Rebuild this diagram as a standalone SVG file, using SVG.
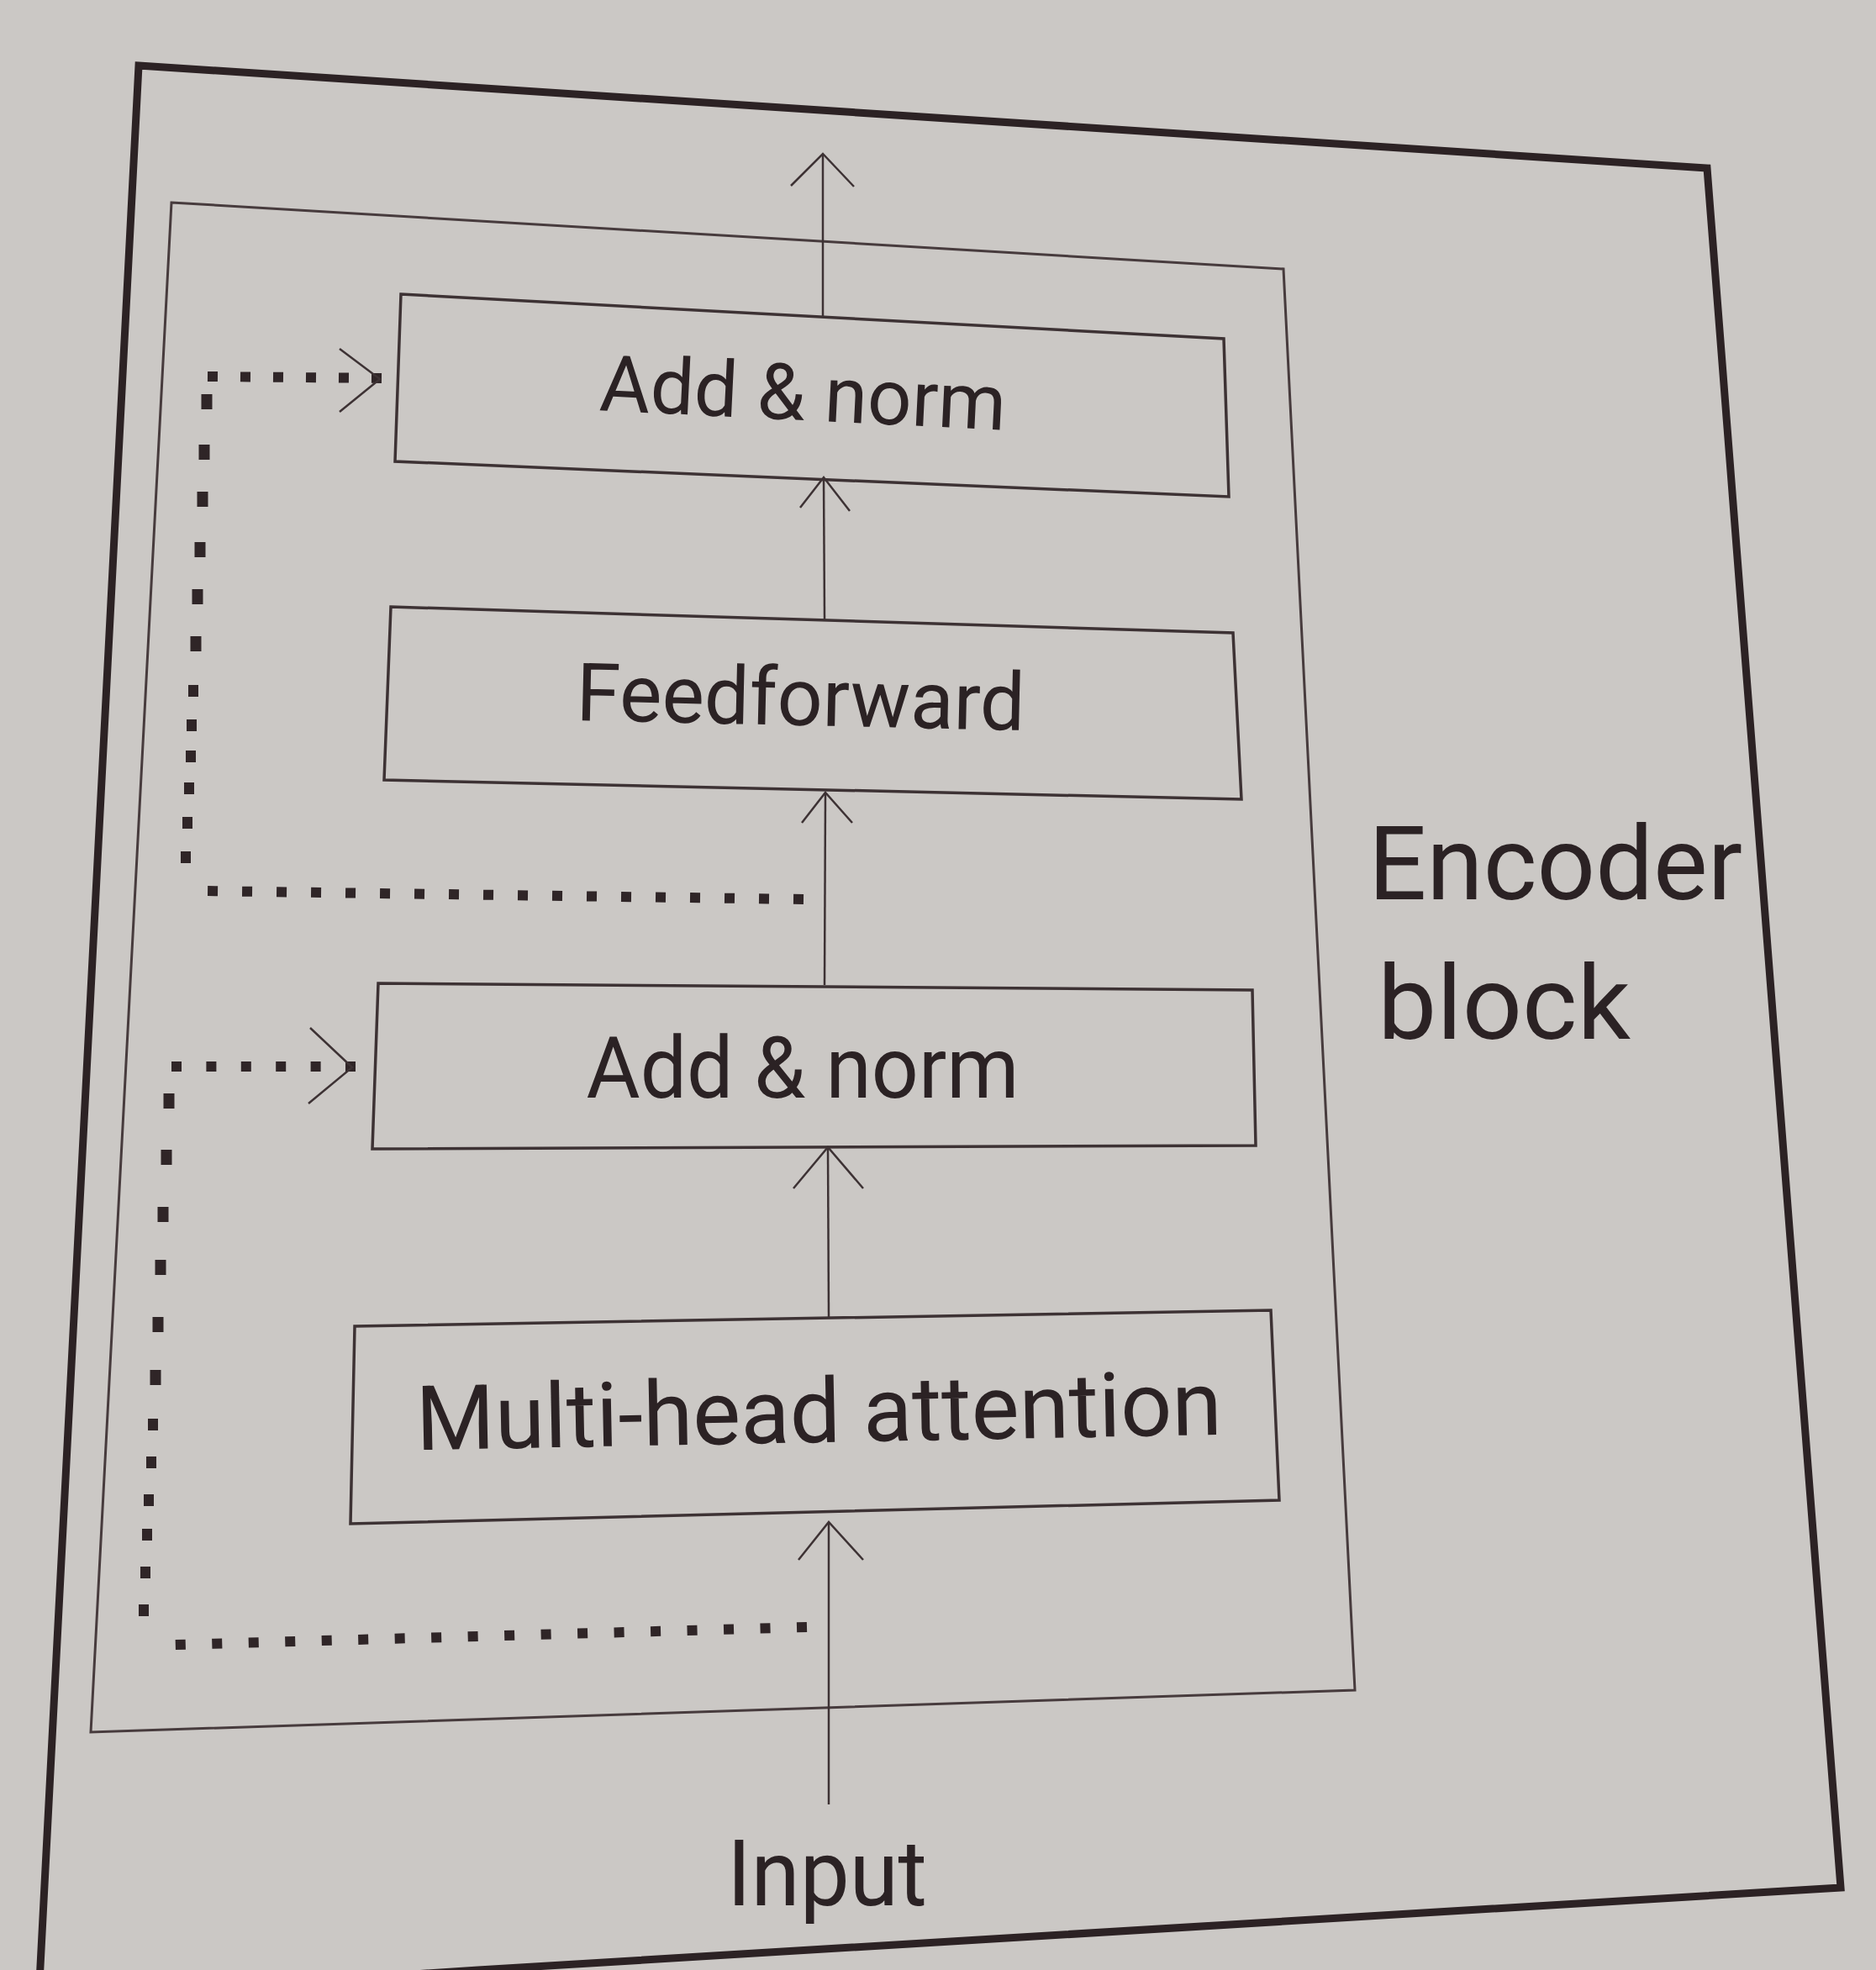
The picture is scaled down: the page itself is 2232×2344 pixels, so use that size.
<svg xmlns="http://www.w3.org/2000/svg" width="2232" height="2344" viewBox="0 0 2232 2344">
  <defs>
    <style>
      .frame { fill: none; stroke: #2c2224; stroke-width: 9; stroke-linejoin: miter; }
      .block { fill: none; stroke: #473b3d; stroke-width: 3; }
      .box { fill: none; stroke: #3d3234; stroke-width: 3.5; }
      .lbl { font-family: Roboto, "Liberation Sans", sans-serif; fill: #2b2224; }
      .line { fill: none; stroke: #3d3234; stroke-width: 2.5; }
      .head { fill: none; stroke: #3d3234; stroke-width: 2.5; stroke-linejoin: miter; }
      .hdots { fill: none; stroke: #2f2527; stroke-width: 12; }
      .dot { fill: #2f2527; }
    </style>
  </defs>
  <rect x="0" y="0" width="2232" height="2344" fill="#cbc8c5"/>

  <g id="outer-frame">
    <polygon class="frame" points="165,78 2031,200 2190,2246 569,2344 46,2378"/>
  </g>

  <g id="encoder-block">
    <polygon class="block" points="204,241 1527,320 1612,2011 108,2061"/>
    <text class="lbl" x="1628" y="1070" font-size="122" textLength="445" lengthAdjust="spacingAndGlyphs">Encoder</text>
    <text class="lbl" x="1639" y="1236" font-size="122" textLength="301" lengthAdjust="spacingAndGlyphs">block</text>
  </g>

  <g id="add-norm-top">
    <polygon class="box" points="477,350 1456,403 1462,591 470,549"/>
    <text class="lbl" x="954" y="500" font-size="93" text-anchor="middle" textLength="484" lengthAdjust="spacingAndGlyphs" transform="rotate(2.8 954 500)">Add &amp; norm</text>
  </g>

  <g id="feedforward">
    <polygon class="box" points="465,722 1467,753 1477,951 457,928"/>
    <text class="lbl" x="952" y="863" font-size="96" text-anchor="middle" textLength="534" lengthAdjust="spacingAndGlyphs" transform="rotate(1.3 952 863)">Feedforward</text>
  </g>

  <g id="add-norm-bottom">
    <polygon class="box" points="450,1170 1490,1178 1494,1363 443,1367"/>
    <text class="lbl" x="955" y="1306" font-size="102" text-anchor="middle" textLength="515" lengthAdjust="spacingAndGlyphs">Add &amp; norm</text>
  </g>

  <g id="multi-head-attention">
    <polygon class="box" points="422,1578 1512,1559 1522,1785 417,1813"/>
    <text class="lbl" x="975" y="1716" font-size="107" text-anchor="middle" textLength="959" lengthAdjust="spacingAndGlyphs" transform="rotate(-1.1 975 1716)">Multi-head attention</text>
  </g>

  <g id="input">
    <text class="lbl" x="865" y="2267" font-size="110" textLength="238" lengthAdjust="spacingAndGlyphs">Input</text>
  </g>

  <g id="connectors">
    <!-- output arrow -->
    <line class="line" x1="979" y1="377" x2="979" y2="184"/>
    <polyline class="head" points="941,221 979,183 1016,222"/>
    <!-- feedforward to add & norm top -->
    <line class="line" x1="981" y1="737" x2="980" y2="569"/>
    <polyline class="head" points="952,604 980,568 1011,608"/>
    <!-- add & norm bottom to feedforward -->
    <line class="line" x1="981" y1="1172" x2="982" y2="944"/>
    <polyline class="head" points="954,979 982,943 1014,979"/>
    <!-- multi-head attention to add & norm bottom -->
    <line class="line" x1="986" y1="1568" x2="985" y2="1366"/>
    <polyline class="head" points="944,1414 985,1365 1027,1414"/>
    <!-- input to multi-head attention -->
    <line class="line" x1="986" y1="2147" x2="986" y2="1812"/>
    <polyline class="head" points="950,1856 986,1811 1027,1856"/>

    <!-- residual path 1 (around feedforward) -->
    <line class="hdots" x1="956" y1="1070" x2="240" y2="1060" stroke-dasharray="12 29"/>
    <g class="dot">
      <rect x="239.5" y="469" width="13" height="18"/>
      <rect x="236.5" y="529" width="13" height="18"/>
      <rect x="234.5" y="585" width="13" height="18"/>
      <rect x="231.5" y="645" width="13" height="18"/>
      <rect x="228.5" y="701" width="13" height="18"/>
      <rect x="226.5" y="757" width="13" height="18"/>
      <rect x="224" y="815" width="12" height="14"/>
      <rect x="222" y="856" width="12" height="14"/>
      <rect x="221" y="893" width="12" height="14"/>
      <rect x="219" y="931" width="12" height="14"/>
      <rect x="217" y="972" width="12" height="14"/>
      <rect x="215" y="1013" width="12" height="14"/>
    </g>
    <line class="hdots" x1="247" y1="448" x2="455" y2="450" stroke-dasharray="12 27"/>
    <polyline class="head" points="404,415 452,451 404,490"/>

    <!-- residual path 2 (around multi-head attention) -->
    <line class="hdots" x1="960" y1="1936" x2="208" y2="1957" stroke-dasharray="12 31.5"/>
    <g class="dot">
      <rect x="194.5" y="1301" width="13" height="18"/>
      <rect x="191.5" y="1368" width="13" height="18"/>
      <rect x="187.5" y="1436" width="13" height="18"/>
      <rect x="184.5" y="1499" width="13" height="18"/>
      <rect x="181.5" y="1567" width="13" height="18"/>
      <rect x="178.5" y="1630" width="13" height="18"/>
      <rect x="176" y="1688" width="12" height="14"/>
      <rect x="174" y="1733" width="12" height="14"/>
      <rect x="171" y="1778" width="12" height="14"/>
      <rect x="169" y="1819" width="12" height="14"/>
      <rect x="167" y="1864" width="12" height="14"/>
      <rect x="165" y="1909" width="12" height="14"/>
    </g>
    <line class="hdots" x1="204" y1="1269" x2="423" y2="1269" stroke-dasharray="12 29.4"/>
    <polyline class="head" points="369,1223 419,1270 367,1313"/>
  </g>
</svg>
